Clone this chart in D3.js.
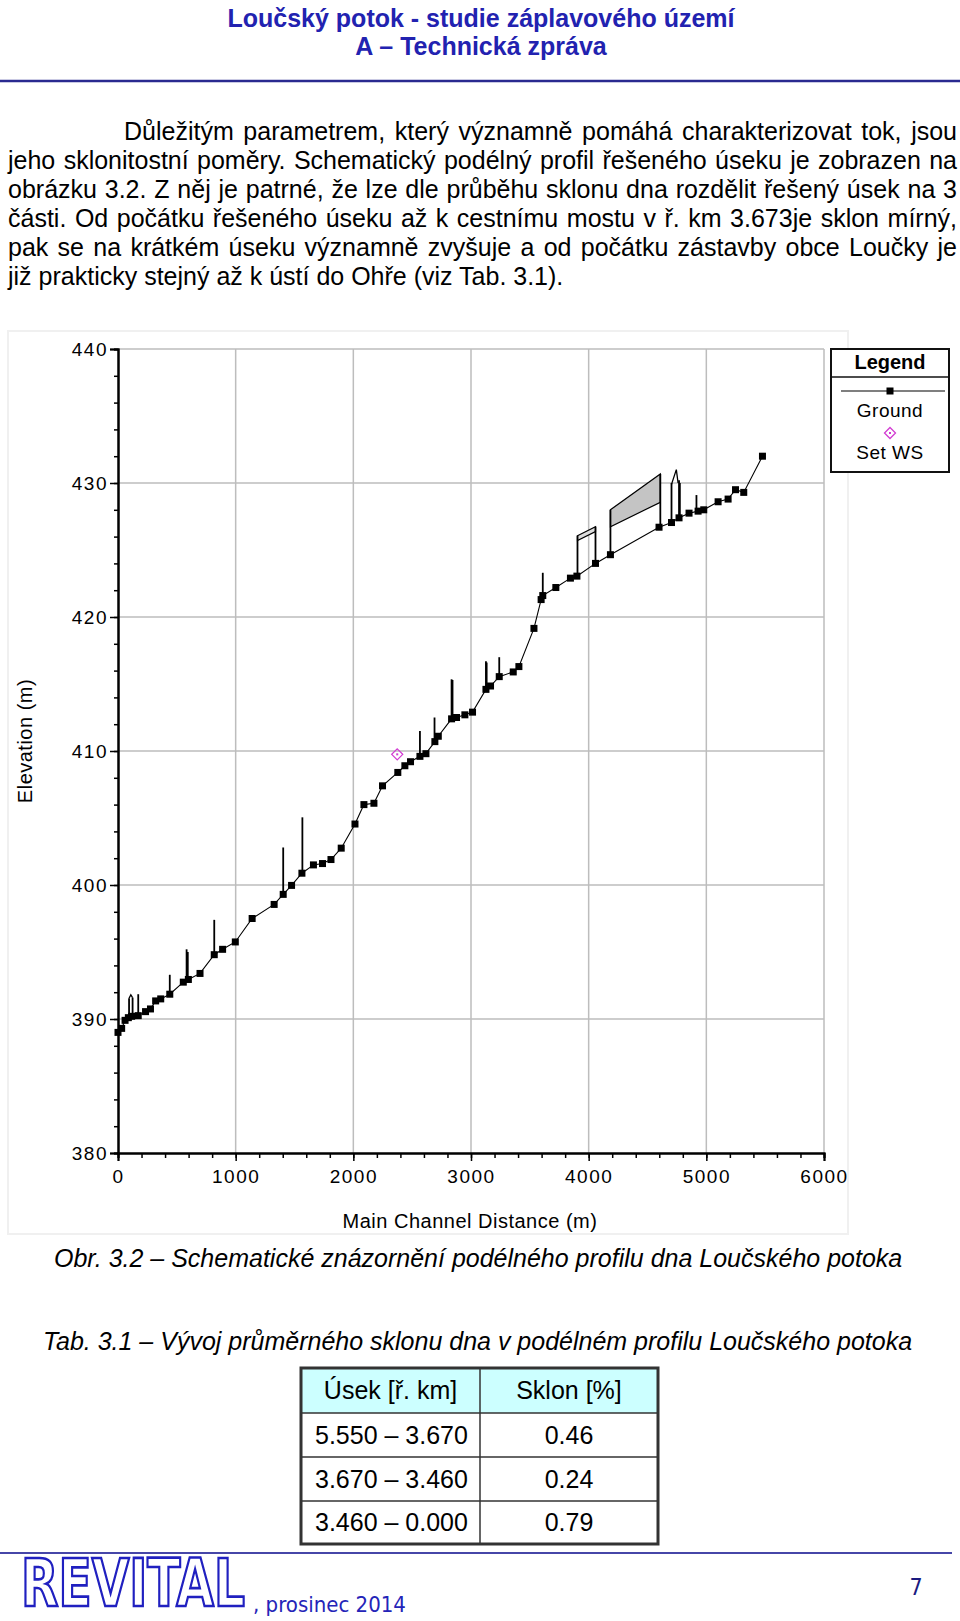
<!DOCTYPE html>
<html>
<head>
<meta charset="utf-8">
<script src="https://cdn.jsdelivr.net/npm/d3@7"></script>
<style>
body { margin: 0; background: #fff; }
svg { display: block; }
</style>
</head>
<body>
<div id="page"></div>
<script>
// ground profile (station m, elevation m)
var stations = [0, 31, 60, 88, 116, 172, 234, 276, 320, 363, 440, 555, 598, 697, 818, 889, 997,
  1140, 1327, 1404, 1475, 1563, 1661, 1738, 1810, 1897, 2014, 2090, 2175, 2248, 2378, 2438,
  2486, 2566, 2617, 2693, 2722, 2835, 2877, 2948, 3013, 3127, 3166, 3240, 3359, 3407, 3535,
  3596, 3610, 3721, 3845, 3900, 4058, 4185, 4598, 4704, 4768, 4853, 4930, 4978, 5100, 5185,
  5248, 5318, 5477]
var ground = [389.0, 389.3, 389.9, 390.1, 390.2, 390.25, 390.55, 390.75, 391.35, 391.5, 391.85,
  392.75, 392.95, 393.4, 394.8, 395.2, 395.75, 397.5, 398.55, 399.3, 399.97, 400.88, 401.5,
  401.6, 401.9, 402.75, 404.55, 406.0, 406.1, 407.4, 408.4, 408.9, 409.2, 409.6, 409.8, 410.7,
  411.1, 412.4, 412.5, 412.7, 412.9, 414.6, 414.85, 415.55, 415.9, 416.3, 419.15, 421.3, 421.6,
  422.2, 422.9, 423.05, 424.0, 424.65, 426.7, 427.05, 427.4, 427.75, 427.9, 428.0, 428.6,
  428.8, 429.5, 429.3, 432.0]

// vertical structure lines
var structX = [94, 124, 172, 440, 583, 593, 818, 1404, 1567, 2566, 2690, 2835, 2843, 3127, 3133,
  3240, 3610, 3905, 4058, 4185, 4609, 4704, 4768, 4775, 4916]
var structLow = [390.1, 390.2, 390.25, 391.85, 392.85, 392.9, 394.8, 399.3, 400.9, 409.6, 410.6,
  412.4, 412.45, 414.6, 414.65, 415.55, 421.6, 423.05, 424.0, 424.65, 426.75, 427.05, 427.4,
  427.45, 427.9]
var structHigh = [391.55, 391.6, 391.85, 393.3, 395.2, 395.0, 397.4, 402.8, 405.05, 411.5, 412.5,
  415.35, 415.3, 416.7, 416.6, 417.0, 423.3, 426.07, 426.74, 428.0, 430.67, 430.0, 430.2,
  430.0, 429.1]

// bridge decks
var deckStart = [3905, 4185]
var deckEnd = [4058, 4609]
var deckTopStart = [426.07, 428.0]
var deckTopEnd = [426.74, 430.67]
var deckBotStart = [425.7, 426.74]
var deckBotEnd = [426.37, 428.56]
var deckFill = ["#dcdcdc", "#c4c4c4"]

// small peaked tops
var peakX = [[94, 109, 124], [4704, 4745, 4760]]
var peakY = [[391.55, 391.8, 391.6], [429.9, 431.0, 430.0]]

// set water surface
var wsStation = [2373]
var wsElev = [409.75]

var xTicks = [0, 1000, 2000, 3000, 4000, 5000, 6000]
var yTicks = [380, 390, 400, 410, 420, 430, 440]

var tableHead = ["Úsek [ř. km]", "Sklon [%]"]
var tableRange = ["5.550 – 3.670", "3.670 – 3.460", "3.460 – 0.000"]
var tableSlope = ["0.46", "0.24", "0.79"]

var paraLines = [
  "Důležitým parametrem, který významně pomáhá charakterizovat tok, jsou",
  "jeho sklonitostní poměry. Schematický podélný profil řešeného úseku je zobrazen na",
  "obrázku 3.2. Z něj je patrné, že lze dle průběhu sklonu dna rozdělit řešený úsek na 3",
  "části. Od počátku řešeného úseku až k cestnímu mostu v ř. km 3.673je sklon mírný,",
  "pak se na krátkém úseku významně zvyšuje a od počátku zástavby obce Loučky je",
  "již prakticky stejný až k ústí do Ohře (viz Tab. 3.1)."
]

var W = 960, H = 1621
var sans = "'Liberation Sans', Arial, sans-serif"
var narrow = "'Liberation Sans Narrow', 'Arial Narrow', 'DejaVu Sans Condensed', sans-serif"

var svg = d3.select("#page").append("svg")
    .attr("width", W)
    .attr("height", H)
    .style("font-family", sans)

svg.append("rect").attr("width", W).attr("height", H).attr("fill", "#fff")

// header
svg.append("text")
    .attr("x", 481).attr("y", 18).attr("dy", "0.35em")
    .attr("text-anchor", "middle")
    .attr("font-size", 25).attr("font-weight", "bold")
    .attr("fill", "#2222b0")
    .text("Loučský potok - studie záplavového území")
svg.append("text")
    .attr("x", 481).attr("y", 46).attr("dy", "0.35em")
    .attr("text-anchor", "middle")
    .attr("font-size", 25).attr("font-weight", "bold")
    .attr("fill", "#2222b0")
    .text("A – Technická zpráva")
svg.append("line")
    .attr("x1", 0).attr("x2", 960).attr("y1", 81).attr("y2", 81)
    .attr("stroke", "#2a2a90").attr("stroke-width", 2.5)

// paragraph, justified
paraLines.forEach(function(s, i) {
  var x0 = i == 0 ? 124 : 8
  var t = svg.append("text")
      .attr("x", x0).attr("y", 131 + i * 29).attr("dy", "0.35em")
      .attr("font-size", 25).attr("fill", "#000")
      .text(s)
  if (i < paraLines.length - 1) {
    var len = t.node().getComputedTextLength()
    var n = s.split(" ").length - 1
    t.style("word-spacing", ((957 - x0 - len) / n) + "px")
  }
})

// chart
var x = d3.scaleLinear().domain([0, 6000]).range([118, 824])
var y = d3.scaleLinear().domain([380, 440]).range([1153, 349])

svg.append("rect")
    .attr("x", 8).attr("y", 331).attr("width", 840).attr("height", 903)
    .attr("fill", "none").attr("stroke", "#f0f0f0").attr("stroke-width", 2)

// grid
svg.append("g").selectAll("line")
    .data(xTicks.slice(1))
    .enter().append("line")
    .attr("x1", d => x(d)).attr("x2", d => x(d))
    .attr("y1", y(440)).attr("y2", y(380))
    .attr("stroke", "#bdbdbd").attr("stroke-width", 1.5)
svg.append("g").selectAll("line")
    .data(yTicks.slice(1))
    .enter().append("line")
    .attr("x1", x(0)).attr("x2", x(6000))
    .attr("y1", d => y(d)).attr("y2", d => y(d))
    .attr("stroke", "#bdbdbd").attr("stroke-width", 1.5)

// axes
var xMinor = svg.append("g")
    .attr("transform", "translate(0," + y(380) + ")")
    .call(d3.axisBottom(x).tickValues(d3.range(0, 6001, 200)).tickSize(5).tickFormat(""))
var xAxis = svg.append("g")
    .attr("transform", "translate(0," + y(380) + ")")
    .call(d3.axisBottom(x).tickValues(xTicks).tickSize(8).tickPadding(6).tickFormat(d3.format("d")))
var yMinor = svg.append("g")
    .attr("transform", "translate(" + x(0) + ",0)")
    .call(d3.axisLeft(y).tickValues(d3.range(380, 441, 2)).tickSize(4).tickFormat(""))
var yAxis = svg.append("g")
    .attr("transform", "translate(" + x(0) + ",0)")
    .call(d3.axisLeft(y).tickValues(yTicks).tickSize(8).tickPadding(2))

svg.selectAll(".domain").attr("stroke", "#000").attr("stroke-width", 2)
svg.selectAll(".tick line").attr("stroke", "#000").attr("stroke-width", 1.5)
svg.selectAll(".tick text")
    .attr("fill", "#000")
    .style("font-family", sans)
    .style("font-size", "19px")
    .style("letter-spacing", "1.5px")
xAxis.selectAll(".tick text").attr("dy", "0.85em")

svg.append("text")
    .attr("x", 470).attr("y", 1221).attr("dy", "0.35em")
    .attr("text-anchor", "middle")
    .attr("font-size", 20).attr("letter-spacing", "0.5px")
    .text("Main Channel Distance (m)")
svg.append("text")
    .attr("transform", "translate(25,741) rotate(-90)")
    .attr("dy", "0.35em")
    .attr("text-anchor", "middle")
    .attr("font-size", 20).attr("letter-spacing", "0.5px")
    .text("Elevation (m)")

// decks
deckStart.forEach(function(s, i) {
  var pts = [[s, deckTopStart[i]], [deckEnd[i], deckTopEnd[i]], [deckEnd[i], deckBotEnd[i]], [s, deckBotStart[i]]]
  svg.append("path")
      .attr("d", "M" + pts.map(p => x(p[0]) + "," + y(p[1])).join("L") + "Z")
      .attr("fill", deckFill[i]).attr("stroke", "#000").attr("stroke-width", 1.2)
})

// peaked tops
var peakLine = d3.line().x(d => x(d[0])).y(d => y(d[1]))
peakX.forEach(function(px, i) {
  svg.append("path")
      .attr("d", peakLine(px.map((v, j) => [v, peakY[i][j]])))
      .attr("fill", "none").attr("stroke", "#000").attr("stroke-width", 1.3)
})

// structure verticals
svg.append("g").selectAll("line")
    .data(structX)
    .enter().append("line")
    .attr("x1", d => x(d)).attr("x2", d => x(d))
    .attr("y1", (d, i) => y(structLow[i])).attr("y2", (d, i) => y(structHigh[i]))
    .attr("stroke", "#000").attr("stroke-width", 1.8)

// ground line + markers
var groundLine = d3.line().x(d => x(d)).y((d, i) => y(ground[i]))
svg.append("path")
    .attr("d", groundLine(stations))
    .attr("fill", "none").attr("stroke", "#000").attr("stroke-width", 1.1)
svg.append("g").selectAll("rect")
    .data(stations)
    .enter().append("rect")
    .attr("x", d => x(d) - 3.5).attr("y", (d, i) => y(ground[i]) - 3.5)
    .attr("width", 7).attr("height", 7)
    .attr("fill", "#000")

// set WS marker
function diamond(g, cx, cy) {
  g.append("path")
      .attr("d", "M" + cx + "," + (cy - 5.5) + "L" + (cx + 5.5) + "," + cy + "L" + cx + "," + (cy + 5.5) + "L" + (cx - 5.5) + "," + cy + "Z")
      .attr("fill", "none").attr("stroke", "#d23cd2").attr("stroke-width", 1.3)
  g.append("rect")
      .attr("x", cx - 1).attr("y", cy - 1).attr("width", 2).attr("height", 2)
      .attr("fill", "#d23cd2")
}
wsStation.forEach(function(s, i) { diamond(svg, x(s), y(wsElev[i])) })

// legend
var lg = svg.append("g")
lg.append("rect")
    .attr("x", 831).attr("y", 349).attr("width", 118).attr("height", 123)
    .attr("fill", "#fff").attr("stroke", "#111").attr("stroke-width", 2)
lg.append("line")
    .attr("x1", 831).attr("x2", 949).attr("y1", 377).attr("y2", 377)
    .attr("stroke", "#111").attr("stroke-width", 1.5)
lg.append("text")
    .attr("x", 890).attr("y", 362).attr("dy", "0.35em")
    .attr("text-anchor", "middle").attr("font-size", 20).attr("font-weight", "bold")
    .text("Legend")
lg.append("line")
    .attr("x1", 841).attr("x2", 945).attr("y1", 391).attr("y2", 391)
    .attr("stroke", "#000").attr("stroke-width", 1.2)
lg.append("rect")
    .attr("x", 886.5).attr("y", 387.5).attr("width", 7).attr("height", 7).attr("fill", "#000")
lg.append("text")
    .attr("x", 890).attr("y", 410).attr("dy", "0.35em")
    .attr("text-anchor", "middle").attr("font-size", 19).attr("letter-spacing", "0.5px")
    .text("Ground")
diamond(lg, 890, 433)
lg.append("text")
    .attr("x", 890).attr("y", 452).attr("dy", "0.35em")
    .attr("text-anchor", "middle").attr("font-size", 19).attr("letter-spacing", "0.5px")
    .text("Set WS")

// captions
svg.append("text")
    .attr("x", 54).attr("y", 1258).attr("dy", "0.35em")
    .attr("font-size", 25).attr("font-style", "italic")
    .text("Obr. 3.2 – Schematické znázornění podélného profilu dna Loučského potoka")
svg.append("text")
    .attr("x", 43).attr("y", 1341).attr("dy", "0.35em")
    .attr("font-size", 25).attr("font-style", "italic")
    .text("Tab. 3.1 – Vývoj průměrného sklonu dna v podélném profilu Loučského potoka")

// table
var tx = [301, 480, 658]
var ty = [1368, 1413, 1457, 1501, 1544]
svg.append("rect")
    .attr("x", tx[0]).attr("y", ty[0]).attr("width", tx[2] - tx[0]).attr("height", ty[1] - ty[0])
    .attr("fill", "#ccffff")
svg.append("g").selectAll("line")
    .data(ty.slice(1, 4))
    .enter().append("line")
    .attr("x1", tx[0]).attr("x2", tx[2]).attr("y1", d => d).attr("y2", d => d)
    .attr("stroke", "#333").attr("stroke-width", 1.5)
svg.append("line")
    .attr("x1", tx[1]).attr("x2", tx[1]).attr("y1", ty[0]).attr("y2", ty[4])
    .attr("stroke", "#333").attr("stroke-width", 1.5)
svg.append("rect")
    .attr("x", tx[0]).attr("y", ty[0]).attr("width", tx[2] - tx[0]).attr("height", ty[4] - ty[0])
    .attr("fill", "none").attr("stroke", "#333").attr("stroke-width", 3)
tableHead.forEach(function(h, i) {
  svg.append("text")
      .attr("x", (tx[i] + tx[i + 1]) / 2).attr("y", (ty[0] + ty[1]) / 2).attr("dy", "0.35em")
      .attr("text-anchor", "middle").attr("font-size", 25)
      .text(h)
})
tableRange.forEach(function(r, i) {
  var cy = (ty[i + 1] + ty[i + 2]) / 2
  svg.append("text")
      .attr("x", 315).attr("y", cy).attr("dy", "0.35em")
      .attr("font-size", 25)
      .text(r)
  svg.append("text")
      .attr("x", (tx[1] + tx[2]) / 2).attr("y", cy).attr("dy", "0.35em")
      .attr("text-anchor", "middle").attr("font-size", 25)
      .text(tableSlope[i])
})

// footer
svg.append("line")
    .attr("x1", 0).attr("x2", 952).attr("y1", 1553).attr("y2", 1553)
    .attr("stroke", "#4646a8").attr("stroke-width", 2)
// logo: measured, then stretched to its box
var logo = svg.append("text")
    .attr("x", 0).attr("y", 0)
    .attr("font-family", narrow).attr("font-size", 40).attr("font-weight", "bold")
    .attr("fill", "#fff").attr("stroke", "#2020c0").attr("stroke-width", 2.4)
    .attr("vector-effect", "non-scaling-stroke")
    .text("REVITAL")
var logoLen = logo.node().getComputedTextLength()
logo.attr("transform", "translate(21,1606) scale(" + (224 / logoLen) + "," + (48 / (0.729 * 40)) + ")")
svg.append("text")
    .attr("x", 253).attr("y", 1612)
    .attr("font-family", narrow).attr("font-size", 22)
    .attr("fill", "#2424b8")
    .text(", prosinec 2014")
svg.append("text")
    .attr("x", 916).attr("y", 1587).attr("dy", "0.35em")
    .attr("text-anchor", "middle")
    .attr("font-family", narrow).attr("font-size", 23)
    .attr("fill", "#1a1a80")
    .text("7")
</script>
</body>
</html>
